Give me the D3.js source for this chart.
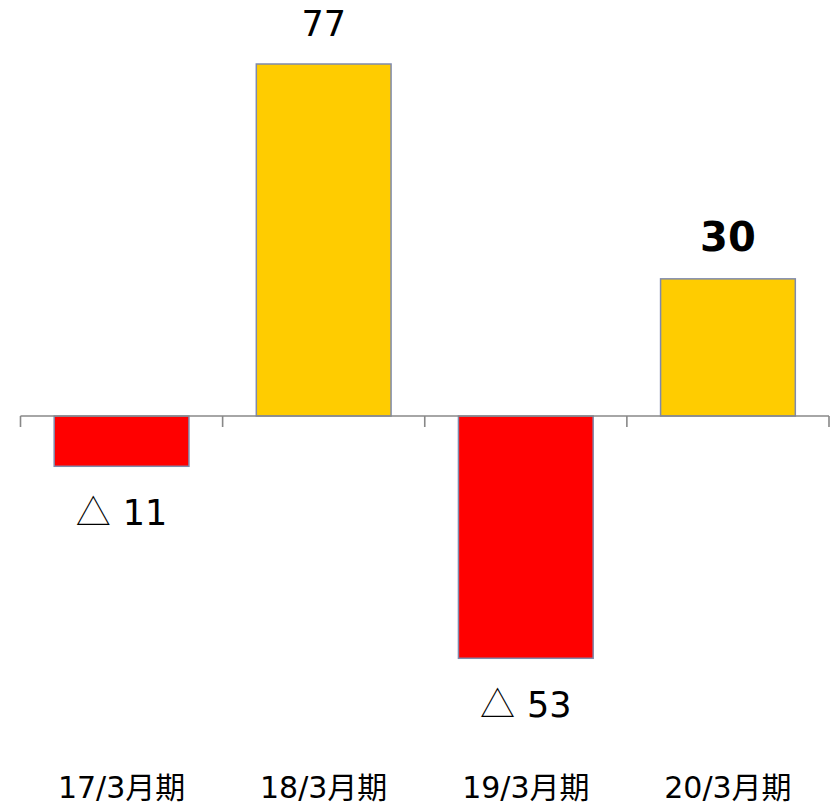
<!DOCTYPE html>
<html>
<head>
<meta charset="utf-8">
<script src="https://cdn.jsdelivr.net/npm/d3@7"></script>
<style>
  html, body { margin: 0; padding: 0; background: #ffffff; }
  svg { display: block; }
</style>
</head>
<body>
<svg id="chart" width="833" height="804"></svg>
<script>
const categories = ["17/3月期", "18/3月期", "19/3月期", "20/3月期"];
const values = [-11, 77, -53, 30];
const valueLabels = ["11", "77", "53", "30"];
const labelPrefix = ["△", "", "△", ""];
const boldLabels = [false, false, false, true];

const svg = d3.select("#chart");
const fontFamily = "'DejaVu Sans', 'Noto Sans CJK JP', sans-serif";
const cjkFamily = "'Noto Sans CJK JP', sans-serif";

const x = d3.scaleBand()
  .domain(categories)
  .range([20.5, 829])
  .paddingInner(1 / 3)
  .paddingOuter(1 / 6);

const y = d3.scaleLinear()
  .domain([0, 77])
  .range([416, 64]);

// bars
svg.append("g").selectAll("rect")
  .data(values)
  .join("rect")
  .attr("x", (d, i) => x(categories[i]))
  .attr("width", x.bandwidth())
  .attr("y", d => Math.min(y(d), y(0)))
  .attr("height", d => Math.abs(y(d) - y(0)))
  .attr("fill", d => d < 0 ? "#ff0000" : "#ffcc00")
  .attr("stroke", "#7f8aad")
  .attr("stroke-width", 1.5);

// axis line with tick marks at band boundaries
const axisG = svg.append("g").attr("stroke", "#888888").attr("stroke-width", 1.6).attr("fill", "none");
axisG.append("line")
  .attr("x1", x.range()[0]).attr("x2", x.range()[1])
  .attr("y1", y(0)).attr("y2", y(0));
const tickXs = categories.map((c, i) => x.range()[0] + i * x.step()).concat([x.range()[1]]);
axisG.selectAll("line.tick")
  .data(tickXs)
  .join("line")
  .attr("class", "tick")
  .attr("x1", d => d).attr("x2", d => d)
  .attr("y1", y(0)).attr("y2", y(0) + 11);

// value labels
const vl = svg.append("g").selectAll("text")
  .data(values)
  .join("text")
  .attr("x", (d, i) => x(categories[i]) + x.bandwidth() / 2)
  .attr("y", d => d < 0 ? y(d) + 59 : y(d) - 28)
  .attr("text-anchor", "middle")
  .attr("font-family", fontFamily)
  .attr("font-size", (d, i) => boldLabels[i] ? 40 : 35)
  .attr("font-weight", (d, i) => boldLabels[i] ? "bold" : "normal")
  .attr("fill", "#000000");
vl.each(function(d, i) {
  const t = d3.select(this);
  if (labelPrefix[i]) {
    t.append("tspan").attr("font-family", cjkFamily).attr("font-weight", 300).text(labelPrefix[i]);
    t.append("tspan").attr("dx", 12).text(valueLabels[i]);
  } else {
    t.append("tspan").text(valueLabels[i]);
  }
});

// category labels
svg.append("g").selectAll("text")
  .data(categories)
  .join("text")
  .attr("x", d => x(d) + x.bandwidth() / 2)
  .attr("y", 798)
  .attr("text-anchor", "middle")
  .attr("font-family", fontFamily)
  .attr("font-size", 30)
  .attr("fill", "#000000")
  .text(d => d);
</script>
</body>
</html>
